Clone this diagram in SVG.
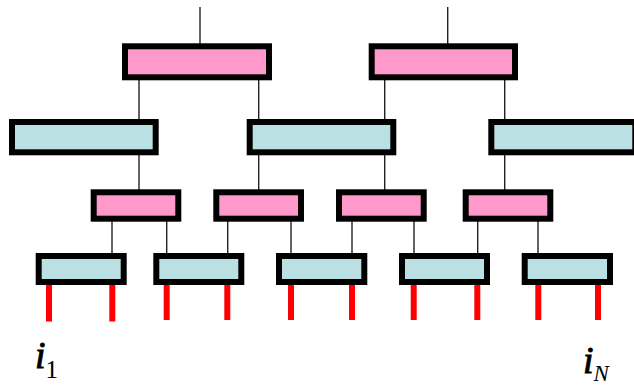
<svg xmlns="http://www.w3.org/2000/svg" width="634" height="385" viewBox="0 0 634 385">
  <style>
    .pink { fill: #FF99CC; stroke: #000; stroke-width: 6; }
    .cyan { fill: #BBE0E3; stroke: #000; stroke-width: 6; }
    .wire { stroke: #222; stroke-width: 1.4; fill: none; }
    .leg { stroke: #FF0000; stroke-width: 6; fill: none; }
    .lbl { font-family: "Liberation Serif", "Times New Roman", serif; fill: #000; }
    .var { font-size: 38px; font-style: italic; stroke: #000; stroke-width: 0.9; }
    .sub { stroke: none; }
  </style>
  <rect width="634" height="385" fill="#fff"/>

  <!-- connectors between levels -->
  <g id="connectors">
    <path class="wire" d="M200,7V44 M447.7,7V44"/>
    <path class="wire" d="M139,80V120 M258.7,80V120 M384.7,80V120 M504.7,80V120"/>
    <path class="wire" d="M139,155V190 M258.7,155V190 M384.7,155V190 M504.7,155V190"/>
    <path class="wire" d="M112,221V254 M166.7,221V254 M227.7,221V254 M291,221V254 M352,221V254 M414,221V254 M477.7,221V254 M538,221V254"/>
    <path class="leg" d="M49,285V321.5 M112.3,285V321.5 M166.7,285V320 M227.3,285V320 M291,285V320 M352,285V320 M413.7,285V320 M477.3,285V320 M538.3,285V320 M598,282V320"/>
  </g>

  <!-- level 1 -->
  <g id="n1a"><rect class="pink" x="125" y="46.3" width="144" height="31"/></g>
  <g id="n1b"><rect class="pink" x="371.7" y="46.3" width="143.3" height="31"/></g>

  <!-- level 2 -->
  <g id="n2a"><rect class="cyan" x="12" y="122" width="143.7" height="30.3"/></g>
  <g id="n2b"><rect class="cyan" x="249.7" y="122" width="143.6" height="30.3"/></g>
  <g id="n2c"><rect class="cyan" x="491.3" y="122" width="144" height="30.3"/></g>

  <!-- level 3 -->
  <g id="n3a"><rect class="pink" x="93.7" y="192.3" width="84.6" height="26.4"/></g>
  <g id="n3b"><rect class="pink" x="216.3" y="192.3" width="84.7" height="26.4"/></g>
  <g id="n3c"><rect class="pink" x="339" y="192.3" width="84.7" height="26.4"/></g>
  <g id="n3d"><rect class="pink" x="465.7" y="192.3" width="84.6" height="26.4"/></g>

  <!-- level 4 -->
  <g id="n4a"><rect class="cyan" x="38.7" y="256" width="85" height="26"/></g>
  <g id="n4b"><rect class="cyan" x="156.3" y="256" width="85" height="26"/></g>
  <g id="n4c"><rect class="cyan" x="279" y="256" width="85.3" height="26"/></g>
  <g id="n4d"><rect class="cyan" x="402" y="256" width="85" height="26"/></g>
  <g id="n4e"><rect class="cyan" x="524.7" y="256" width="85.3" height="26"/></g>

  <!-- input labels -->
  <g id="label-first">
    <text class="lbl var" x="35" y="368.3">i<tspan class="sub" font-size="25" font-style="normal" dy="9.5">1</tspan></text>
  </g>
  <g id="label-last">
    <text class="lbl var" x="583" y="373.3">i<tspan class="sub" font-size="23" dy="8">N</tspan></text>
  </g>
</svg>
